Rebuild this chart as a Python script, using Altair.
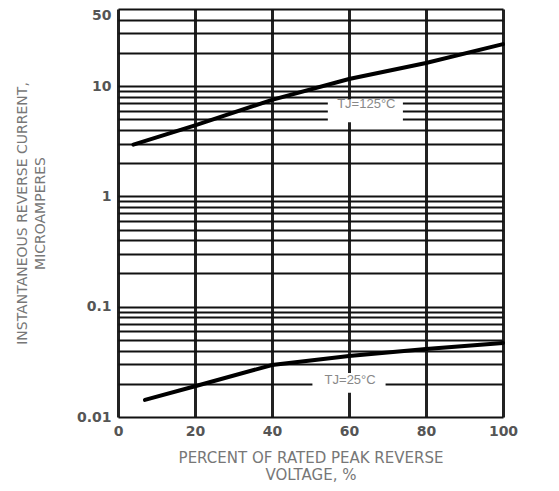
import altair as alt
import pandas as pd

# Data
pct_hot = [4, 20, 40, 60, 80, 100]
cur_hot = [2.95, 4.4, 7.5, 11.6, 16.2, 24.0]
pct_cold = [7, 20, 40, 60, 80, 100]
cur_cold = [0.0143, 0.019, 0.0296, 0.0357, 0.0414, 0.0469]

label_text = ["TJ=125°C", "TJ=25°C"]
label_pct = [64.5, 60.3]
label_cur = [6.9, 0.0216]
box_pct = [54.5, 50.5]
box_pct2 = [74, 69.5]
box_cur = [4.7, 0.0166]
box_cur2 = [7.6, 0.025]

x_ticks = [0, 20, 40, 60, 80, 100]
y_grid = [0.01, 0.02, 0.03, 0.04, 0.05, 0.06, 0.07, 0.08, 0.09,
          0.1, 0.2, 0.3, 0.4, 0.5, 0.6, 0.7, 0.8, 0.9,
          1, 2, 3, 4, 5, 6, 7, 8, 9,
          10, 20, 30, 40, 50]
y_labels = [0.01, 0.1, 1, 10, 50]

lines = pd.DataFrame({
    "pct": pct_hot + pct_cold,
    "cur": cur_hot + cur_cold,
    "series": ["125"] * len(pct_hot) + ["25"] * len(pct_cold),
})
boxes = pd.DataFrame({"pct": box_pct, "pct2": box_pct2, "cur": box_cur, "cur2": box_cur2})
labels = pd.DataFrame({"pct": label_pct, "cur": label_cur, "text": label_text})

xscale = alt.Scale(domain=[0, 100], nice=False, zero=False)
yscale = alt.Scale(type="log", domain=[0.01, 50], nice=False)

lbl_list = "[" + ", ".join(str(v) for v in y_labels) + "]"

xaxis = alt.Axis(
    values=x_ticks, grid=True, gridColor="#222", gridWidth=3, domain=False, ticks=False,
    labelFont="DejaVu Sans", labelFontSize=14, labelFontWeight="bold", labelColor="#555",
    labelPadding=7, labelFlush=False,
    title=["PERCENT OF RATED PEAK REVERSE", "VOLTAGE, %"],
    titleFont="DejaVu Sans", titleFontSize=15, titleFontWeight="normal", titleColor="#777",
    titlePadding=12, titleLineHeight=17,
)
yaxis = alt.Axis(
    values=y_grid, grid=True, gridColor="#111", gridWidth=2, domain=False, ticks=False,
    labelExpr="indexof(" + lbl_list + ", datum.value) >= 0 ? '' + datum.value : ''",
    labelFont="DejaVu Sans", labelFontSize=14, labelFontWeight="bold", labelColor="#555",
    labelPadding=7, labelOverlap=False, labelFlush=False,
    labelOffset={"condition": {"test": "datum.value == 50", "value": 6}, "value": 0},
    title=["INSTANTANEOUS REVERSE CURRENT,", "MICROAMPERES"],
    titleFont="DejaVu Sans", titleFontSize=14, titleFontWeight="normal", titleColor="#777",
    titleX=-89, titleLineHeight=18,
)

base_lines = alt.Chart(lines).mark_line(color="black", strokeWidth=4, strokeCap="round").encode(
    x=alt.X("pct:Q", scale=xscale, axis=xaxis),
    y=alt.Y("cur:Q", scale=yscale, axis=yaxis),
    detail="series:N",
)

rects = alt.Chart(boxes).mark_rect(color="white").encode(
    x=alt.X("pct:Q", scale=xscale),
    x2="pct2:Q",
    y=alt.Y("cur:Q", scale=yscale),
    y2="cur2:Q",
)

texts = alt.Chart(labels).mark_text(
    font="Liberation Sans", fontSize=13, color="#888", align="center", baseline="middle"
).encode(
    x=alt.X("pct:Q", scale=xscale),
    y=alt.Y("cur:Q", scale=yscale),
    text="text:N",
)

chart = alt.layer(base_lines, rects, texts).properties(
    width=385, height=408,
    autosize=alt.AutoSizeParams(type="none"),
    padding={"left": 110, "top": 1, "right": 48, "bottom": 66},
).configure_view(stroke="black", strokeWidth=3).configure(background="white")

chart.save("out.html", embed_options={"renderer": "svg", "actions": False})
